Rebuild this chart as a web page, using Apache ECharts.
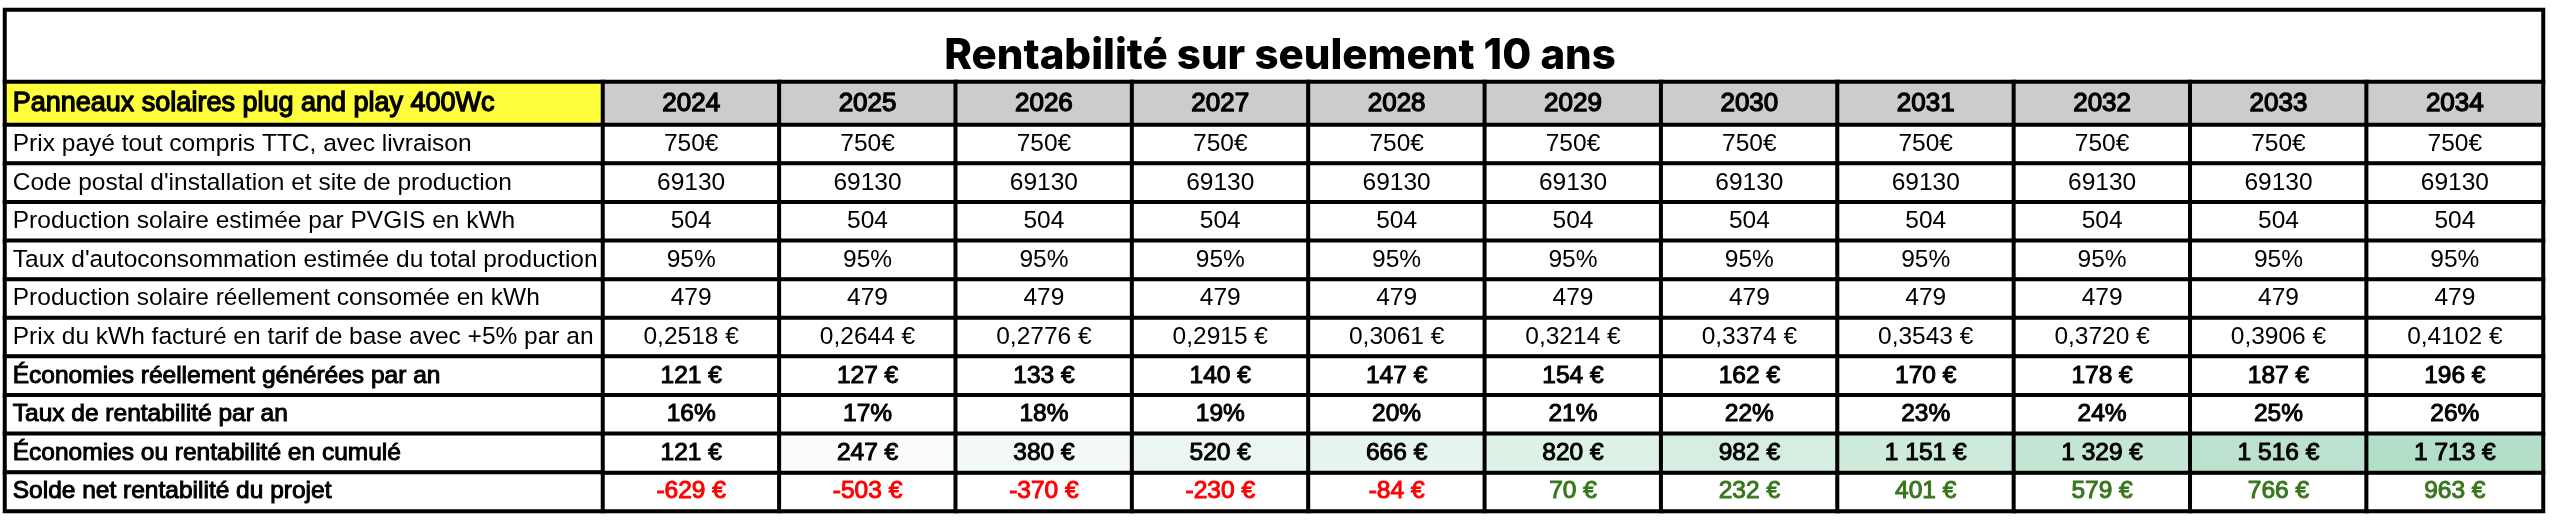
<!DOCTYPE html>
<html><head><meta charset="utf-8">
<script src="https://cdn.jsdelivr.net/npm/echarts@6/dist/echarts.min.js"></script>
<style>html,body{margin:0;padding:0;background:#fff}#c{width:2560px;height:529px}</style>
</head><body><div id="c"></div>
<script>
// ---------- data ----------
const titleText = 'Rentabilité sur seulement 10 ans';
const headerLabel = 'Panneaux solaires plug and play 400Wc';
const years = ['2024','2025','2026','2027','2028','2029','2030','2031','2032','2033','2034'];
const rowLabels = [
  'Prix payé tout compris TTC, avec livraison',
  "Code postal d'installation et site de production",
  'Production solaire estimée par PVGIS en kWh',
  "Taux d'autoconsommation estimée du total production",
  'Production solaire réellement consomée en kWh',
  'Prix du kWh facturé en tarif de base avec +5% par an',
  'Économies réellement générées par an',
  'Taux de rentabilité par an',
  'Économies ou rentabilité en cumulé',
  'Solde net rentabilité du projet'
];
const boldRows = [false,false,false,false,false,false,true,true,true,true];
const prixPaye = [750,750,750,750,750,750,750,750,750,750,750];
const codePostal = [69130,69130,69130,69130,69130,69130,69130,69130,69130,69130,69130];
const productionEstimee = [504,504,504,504,504,504,504,504,504,504,504];
const tauxAutoconso = [95,95,95,95,95,95,95,95,95,95,95];
const productionConsommee = [479,479,479,479,479,479,479,479,479,479,479];
const prixKwh = [0.2518,0.2644,0.2776,0.2915,0.3061,0.3214,0.3374,0.3543,0.3720,0.3906,0.4102];
const economiesAn = [121,127,133,140,147,154,162,170,178,187,196];
const tauxRentabilite = [16,17,18,19,20,21,22,23,24,25,26];
const cumul = [121,247,380,520,666,820,982,1151,1329,1516,1713];
const solde = [-629,-503,-370,-230,-84,70,232,401,579,766,963];

// ---------- formatting ----------
const grp = v => String(Math.abs(v)).replace(/\B(?=(\d{3})+(?!\d))/g, ' ');
const fEuroTight = v => v + '€';
const fPlain = v => String(v);
const fPct = v => v + '%';
const fKwh = v => v.toFixed(4).replace('.', ',') + ' €';
const fEuro = v => (v < 0 ? '-' : '') + grp(v) + ' €';

const rows = [
  {vals: prixPaye, fmt: fEuroTight},
  {vals: codePostal, fmt: fPlain},
  {vals: productionEstimee, fmt: fPlain},
  {vals: tauxAutoconso, fmt: fPct},
  {vals: productionConsommee, fmt: fPlain},
  {vals: prixKwh, fmt: fKwh},
  {vals: economiesAn, fmt: fEuro},
  {vals: tauxRentabilite, fmt: fPct},
  {vals: cumul, fmt: fEuro, scale: true},
  {vals: solde, fmt: fEuro, signColor: true}
];

const FONT = '"Liberation Sans Narrow", "Arial Narrow", sans-serif';
const BODY_SIZE = 24.5;
const HEAD_SIZE = 26;
const BORDER = {borderColor: '#000', borderWidth: 4};
// narrow font has no bold face installed: embolden with a stroke of the text colour
function boldStyle(color, w) {
  return {fontWeight: 'normal', color, textBorderColor: color, textBorderWidth: w};
}

// geometry
const L = 5, R = 17, COL1 = 598;
const T_TOP = 10, T_H = 72, H_TOP = 82, H_H = 43, B_TOP = 125, B_H = 386;

const hideAxis = {show: false};
function cat(gridIndex, data, inverse) {
  return {type: 'category', gridIndex, data, inverse: !!inverse, show: false,
    axisLine: hideAxis, axisTick: hideAxis, axisLabel: hideAxis, splitLine: hideAxis};
}

const bodyValues = [];
rows.forEach((r, ri) => {
  if (r.scale) return;
  r.vals.forEach((v, xi) => {
    const color = r.signColor ? (v < 0 ? '#ff0000' : '#38761d') : '#000';
    bodyValues.push({
      value: [xi, ri, v],
      label: boldRows[ri] ? boldStyle(color, 1) : {color}
    });
  });
});
const cumulRow = rows.findIndex(r => r.scale);
const cumulData = cumul.map((v, xi) => [xi, cumulRow, v]);

const chart = echarts.init(document.getElementById('c'), null, {renderer: 'canvas'});
chart.setOption({
  animation: false,
  backgroundColor: '#ffffff',
  grid: [
    {left: L, right: R, top: T_TOP, height: T_H},
    {left: L, width: COL1, top: H_TOP, height: H_H},
    {left: L + COL1, right: R, top: H_TOP, height: H_H},
    {left: L, width: COL1, top: B_TOP, height: B_H},
    {left: L + COL1, right: R, top: B_TOP, height: B_H}
  ],
  xAxis: [cat(0, ['t']), cat(1, ['h']), cat(2, years), cat(3, ['l']), cat(4, years)],
  yAxis: [cat(0, ['t']), cat(1, ['h']), cat(2, ['h']), cat(3, rowLabels, true), cat(4, rowLabels, true)],
  visualMap: [{
    type: 'continuous', show: false, seriesIndex: 5, dimension: 2,
    min: Math.min(...cumul), max: Math.max(...cumul),
    inRange: {color: ['#ffffff', '#b3dec8']}
  }],
  series: [
    { // title cell
      type: 'heatmap', xAxisIndex: 0, yAxisIndex: 0,
      data: [[0, 0, 0]],
      itemStyle: Object.assign({color: '#ffffff'}, BORDER),
      emphasis: {disabled: true},
      label: {show: true, formatter: () => titleText, fontFamily: 'Inter, Roboto, sans-serif',
        fontWeight: 800, fontSize: 42, color: '#000', offset: [6, 10]}
    },
    { // header label cell
      type: 'heatmap', xAxisIndex: 1, yAxisIndex: 1,
      data: [[0, 0, 0]],
      itemStyle: Object.assign({color: '#ffff3d'}, BORDER),
      emphasis: {disabled: true},
      label: Object.assign({show: true, position: 'insideLeft', distance: 10, formatter: () => headerLabel,
        fontFamily: FONT, fontSize: 27}, boldStyle('#000', 1.3))
    },
    { // header years
      type: 'heatmap', xAxisIndex: 2, yAxisIndex: 2,
      data: years.map((y, i) => [i, 0, 0]),
      itemStyle: Object.assign({color: '#cccccc'}, BORDER),
      emphasis: {disabled: true},
      label: Object.assign({show: true, formatter: p => years[p.value[0]],
        fontFamily: FONT, fontSize: HEAD_SIZE}, boldStyle('#000', 1.3))
    },
    { // body labels
      type: 'heatmap', xAxisIndex: 3, yAxisIndex: 3,
      data: rowLabels.map((l, i) => ({value: [0, i, 0], label: boldRows[i] ? boldStyle('#000', 1) : {color: '#000'}})),
      itemStyle: Object.assign({color: '#ffffff'}, BORDER),
      emphasis: {disabled: true},
      label: {show: true, position: 'insideLeft', distance: 10, formatter: p => rowLabels[p.value[1]],
        fontFamily: FONT, fontSize: BODY_SIZE, color: '#000'}
    },
    { // body values
      type: 'heatmap', xAxisIndex: 4, yAxisIndex: 4,
      data: bodyValues,
      itemStyle: Object.assign({color: '#ffffff'}, BORDER),
      emphasis: {disabled: true},
      label: {show: true, formatter: p => rows[p.value[1]].fmt(p.value[2]),
        fontFamily: FONT, fontSize: BODY_SIZE, color: '#000'}
    },
    { // cumulative row (colour scale)
      type: 'heatmap', xAxisIndex: 4, yAxisIndex: 4,
      data: cumulData,
      itemStyle: BORDER,
      emphasis: {disabled: true},
      label: Object.assign({show: true, formatter: p => fEuro(p.value[2]),
        fontFamily: FONT, fontSize: BODY_SIZE}, boldStyle('#000', 1))
    }
  ]
});
</script>
</body></html>
